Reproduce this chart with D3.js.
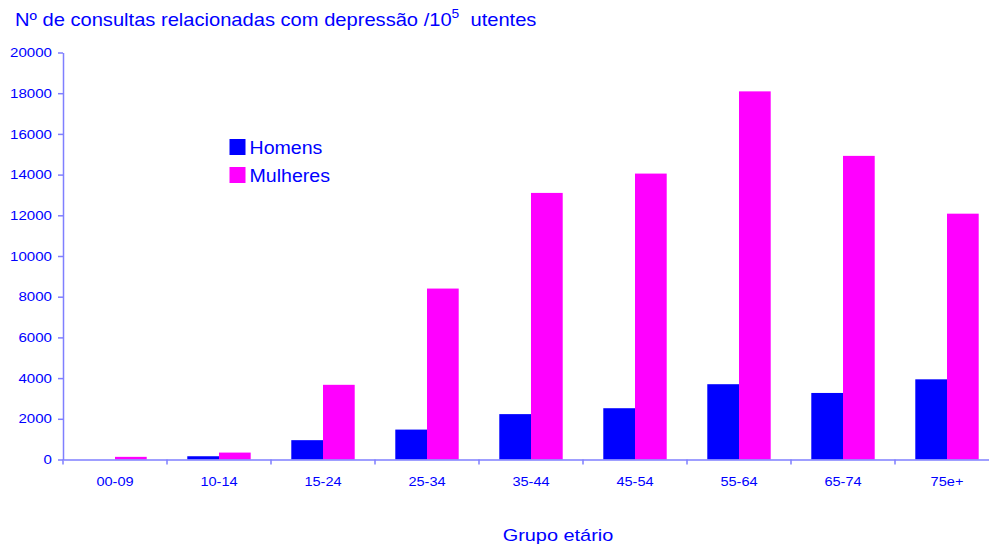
<!DOCTYPE html>
<html>
<head>
<meta charset="utf-8">
<script src="https://cdn.jsdelivr.net/npm/d3@7"></script>
<style>
  body { margin: 0; background: #fff; }
  svg { font-family: "Liberation Sans", Arial, sans-serif; }
  .axis path, .axis line { stroke: #7f7fff; stroke-width: 1.5; }
  .axis text { fill: #0000ff; font-size: 13px; }
</style>
</head>
<body>
<script>
// age groups and rates per 10^5 users
var grupos = ["00-09", "10-14", "15-24", "25-34", "35-44", "45-54", "55-64", "65-74", "75e+"];
var homens = [0, 160, 950, 1470, 2230, 2520, 3700, 3270, 3940];
var mulheres = [130, 340, 3670, 8400, 13100, 14050, 18090, 14920, 12080];
var yTicks = [0, 2000, 4000, 6000, 8000, 10000, 12000, 14000, 16000, 18000, 20000];
var series = ["Homens", "Mulheres"];
var colors = ["#0000ff", "#ff00ff"];

var width = 989, height = 549;
var margin = { top: 52.5, left: 63, bottom: 89.5 };
var plotRight = 999;
var sx = 1.16; // the original text is a bit wider than Arial

var svg = d3.select("body")
  .append("svg")
  .attr("width", width)
  .attr("height", height);

var x = d3.scaleBand()
  .domain(grupos)
  .range([margin.left, plotRight])
  .padding(0);

var xInner = d3.scaleBand()
  .domain(series)
  .range([0, x.bandwidth()])
  .paddingInner(0)
  .paddingOuter(0.64);

var y = d3.scaleLinear()
  .domain([0, 20000])
  .range([height - margin.bottom, margin.top]);

// bars
var groups = svg.append("g")
  .selectAll("g")
  .data(grupos)
  .enter().append("g")
  .attr("transform", function (d) { return "translate(" + x(d) + ",0)"; });

groups.selectAll("rect")
  .data(function (d, i) { return [homens[i], mulheres[i]]; })
  .enter().append("rect")
  .attr("x", function (d, j) { return xInner(series[j]); })
  .attr("width", xInner.bandwidth())
  .attr("y", function (d) { return y(d); })
  .attr("height", function (d) { return y(0) - y(d); })
  .attr("fill", function (d, j) { return colors[j]; });

// y axis
var yAxis = svg.append("g")
  .attr("class", "axis")
  .attr("transform", "translate(" + margin.left + ",0)")
  .call(d3.axisLeft(y).tickValues(yTicks).tickSize(5).tickSizeOuter(0).tickPadding(6).tickFormat(d3.format("d")));

yAxis.selectAll(".tick text")
  .attr("x", -11 / sx)
  .attr("transform", "scale(" + sx + ",1)");

// x axis: labels under bands, ticks at band edges
var xAxis = svg.append("g")
  .attr("class", "axis")
  .attr("transform", "translate(0," + y(0) + ")")
  .call(d3.axisBottom(x).tickSize(0).tickPadding(17));

xAxis.selectAll(".tick text")
  .attr("transform", "scale(1.12,1)");

xAxis.selectAll(".edge")
  .data(grupos)
  .enter().append("line")
  .attr("class", "edge")
  .attr("x1", function (d) { return x(d); })
  .attr("x2", function (d) { return x(d); })
  .attr("y1", 0)
  .attr("y2", 5);

// title
var title = svg.append("g")
  .attr("transform", "translate(15,26) scale(1.15,1)")
  .append("text")
  .attr("fill", "#0000ff")
  .style("font-size", "17.5px");
title.append("tspan").text("Nº de consultas relacionadas com depressão /10");
title.append("tspan").attr("dy", -8).style("font-size", "12px").text("5");
title.append("tspan").attr("dy", 8).attr("xml:space", "preserve").text("  utentes");

// x axis title
svg.append("g")
  .attr("transform", "translate(558,541) scale(1.17,1)")
  .append("text")
  .attr("text-anchor", "middle")
  .attr("fill", "#0000ff")
  .style("font-size", "17px")
  .text("Grupo etário");

// legend
var legend = svg.append("g")
  .selectAll("g")
  .data(series)
  .enter().append("g")
  .attr("transform", function (d, i) { return "translate(229.5," + (139 + i * 28) + ")"; });

legend.append("rect")
  .attr("width", 16)
  .attr("height", 16)
  .attr("fill", function (d, i) { return colors[i]; });

legend.append("text")
  .attr("transform", "translate(20,15) scale(1.12,1)")
  .attr("fill", "#0000ff")
  .style("font-size", "17.5px")
  .text(function (d) { return d; });
</script>
</body>
</html>
